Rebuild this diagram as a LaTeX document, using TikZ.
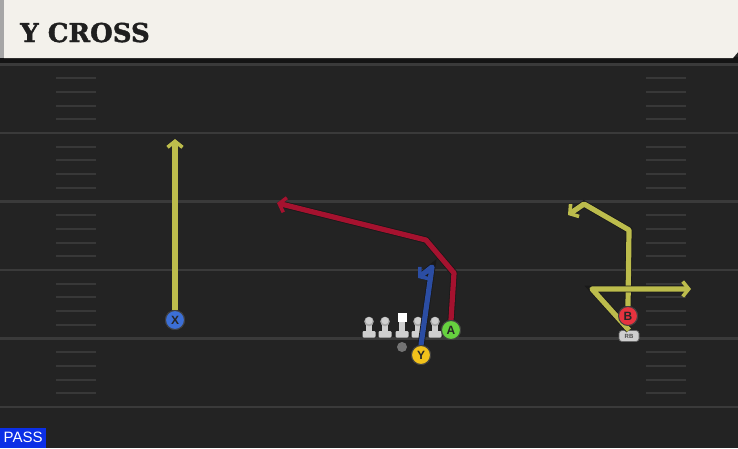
\documentclass[tikz,border=0pt]{standalone}
\usepackage{fontspec}
\usetikzlibrary{arrows.meta}
\newfontfamily\titlefont{DejaVu Serif}[BoldFeatures={FakeBold=1.5}]
\newfontfamily\lblfont{Liberation Sans}
\definecolor{bg}{HTML}{232323}
\definecolor{yardc}{HTML}{3A3A3A}
\definecolor{hashc}{HTML}{383838}
\definecolor{headerc}{HTML}{F3F1EB}
\definecolor{yelc}{HTML}{BCBC4C}
\definecolor{redc}{HTML}{A5122F}
\definecolor{bluec}{HTML}{2B4DA3}
\definecolor{xc}{HTML}{3C6FD6}
\definecolor{ac}{HTML}{66D13F}
\definecolor{yc}{HTML}{F2C21B}
\definecolor{bc}{HTML}{E5333F}
\definecolor{olc}{HTML}{CFCFCF}
\definecolor{olhead}{HTML}{A8A8A8}
\definecolor{passc}{HTML}{0B2FE6}
\tikzset{
  yard/.style={draw=yardc, line width=2.2pt},
  hashm/.style={draw=hashc, line width=2pt},
  player/.style={circle, minimum size=19pt, inner sep=0pt, draw=black!75, line width=1pt,
    font=\lblfont\bfseries\fontsize{12}{12}\selectfont, text=black!85},
  route/.style={line width=5.2pt, line join=round, line cap=butt,
    -{Straight Barb[length=6pt,width=15pt,line width=3.6pt,line join=miter]},
    preaction={draw=black!90, line width=6.8pt}},
  lineman/.pic={
    \fill[olc, rounded corners=1.2pt] (-6.5,10) rectangle (6.5,16.5);
    \fill[olc] (-2.8,2) rectangle (2.8,11);
    \fill[olhead] (0,0.5) circle (4.8);
    \fill[olc] (0,-0.3) circle (3.6);
  },
  centerman/.pic={
    \fill[olc, rounded corners=1.2pt] (-6.5,10) rectangle (6.5,16.5);
    \fill[olc] (-2.8,0) rectangle (2.8,11);
    \fill[white] (-4.5,-8) rectangle (4.5,1);
  },
  rbbadge/.style={fill=olc, draw=black!60, line width=0.7pt, rounded corners=3pt,
    minimum width=20pt, minimum height=11pt, inner sep=0pt,
    font=\lblfont\bfseries\fontsize{6}{6}\selectfont, text=black!70},
}
\begin{document}
\begin{tikzpicture}[x=1pt,y=-1pt]
\useasboundingbox (0,0) rectangle (738,448);
\fill[bg] (0,0) rectangle (738,448);
% yard lines and hash marks
\foreach \i in {0,...,5}{
  \draw[yard] (0,{64.5+68.5*\i}) -- (738,{64.5+68.5*\i});
}
\foreach \i in {0,...,4}{
  \foreach \k in {1,...,4}{
    \draw[hashm] (56,{64.5+68.5*\i+13.7*\k}) -- (96,{64.5+68.5*\i+13.7*\k});
    \draw[hashm] (646,{64.5+68.5*\i+13.7*\k}) -- (686,{64.5+68.5*\i+13.7*\k});
  }
}
% header
\fill[black!92] (0,57) rectangle (738,63);
\fill[headerc] (4,0) -- (738,0) -- (738,52) -- (733,58) -- (4,58) -- cycle;
\fill[black!35] (0,0) rectangle (4,58);
\node[anchor=base west, inner sep=0pt, font=\titlefont\bfseries\fontsize{26}{26}\selectfont, text=black!88] (title) at (20,42) {Y CROSS};
% linemen
\pic at (369,321) {lineman};
\pic at (385,321) {lineman};
\pic at (402,321) {centerman};
\pic at (418,321) {lineman};
\pic at (435,321) {lineman};
\fill[black!55] (402,347) circle (5);
% route points
\coordinate (xend) at (175,139);
\coordinate (r1) at (454,273);
\coordinate (r2) at (426,240);
\coordinate (rend) at (277,203);
\coordinate (b1) at (432,267);
\coordinate (bend) at (418,278);
\coordinate (g1) at (629,230);
\coordinate (g2) at (584,204);
\coordinate (gend) at (568,215);
\coordinate (h1) at (592,289);
\coordinate (hend) at (691,289);
% players
\node[rbbadge] (RB) at (629,336) {RB};
\node[player, fill=xc] (X) at (175,320) {X};
\node[player, fill=ac] (A) at (451,330) {A};
\node[player, fill=yc] (Y) at (421,355) {Y};
\node[player, fill=bc] (B) at (628,316) {B};
% routes
\draw[route, draw=yelc] (X.north) -- (xend);
\draw[route, draw=redc] (A.north) -- (r1) -- (r2) -- (rend);
\draw[route, draw=bluec] (Y.north) -- (b1) -- (bend);
\draw[route, draw=yelc] (B.north) -- (g1) -- (g2) -- (gend);
\draw[route, draw=yelc] (RB.north) -- (h1) -- (hend);
% redraw players on top
\node[player, fill=xc] at (X) {X};
\node[player, fill=ac] at (A) {A};
\node[player, fill=yc] at (Y) {Y};
\node[player, fill=bc] at (B) {B};
% pass badge
\node[anchor=south west, fill=passc, text=white, minimum width=46pt, minimum height=20pt, inner sep=0pt,
  font=\lblfont\fontsize{15}{15}\selectfont] (pass) at (0,448) {PASS};
\end{tikzpicture}
\end{document}
